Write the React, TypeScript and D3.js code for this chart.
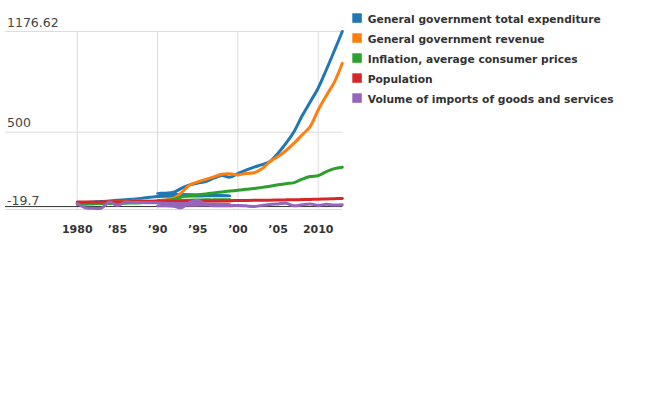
import React from "react";
import * as d3 from "d3";

const years1 = [1980, 1981, 1982, 1983, 1984, 1985, 1986, 1987, 1988, 1989, 1990, 1991, 1992, 1993, 1994, 1995, 1996, 1997, 1998, 1999];
const years2 = [1990, 1991, 1992, 1993, 1994, 1995, 1996, 1997, 1998, 1999, 2000, 2001, 2002, 2003, 2004, 2005, 2006, 2007, 2008, 2009, 2010, 2011, 2012, 2013];
const yearsAll = [1980, 1981, 1982, 1983, 1984, 1985, 1986, 1987, 1988, 1989, 1990, 1991, 1992, 1993, 1994, 1995, 1996, 1997, 1998, 1999, 2000, 2001, 2002, 2003, 2004, 2005, 2006, 2007, 2008, 2009, 2010, 2011, 2012, 2013];

const expenditure1 = [25, 28, 31, 34, 38, 42, 46, 50, 55, 62, 68, 70, 70, 71, 71, 71, 72, 72, 72, 72];
const expenditure2 = [88, 90, 96, 124, 146, 158, 168, 191, 209, 198, 222, 245, 265, 282, 303, 359, 426, 505, 610, 703, 797, 918, 1046, 1176.62];

const revenue1 = [20, 22, 24, 27, 30, 32, 34, 36, 37, 38, 38, 38, 38, 38, 38, 38, 38, 38, 38, 38];
const revenue2 = [40, 44, 56, 95, 145, 166, 183, 200, 217, 220, 213, 222, 227, 254, 303, 336, 377, 426, 482, 538, 649, 745, 835, 963];

const inflation1 = [14, 16, 18, 20, 21, 22, 23, 24, 26, 30, 34, 37, 40, 42, 43, 44, 45, 45, 46, 46];
const inflation2 = [40, 42, 48, 65, 72, 78, 85, 92, 98, 104, 110, 116, 121, 129, 137, 146, 154, 161, 184, 202, 208, 235, 255, 265];

const population = [30, 30.5, 31, 31.5, 32, 32.5, 33, 33.5, 34, 34.5, 35, 35.5, 36, 36.5, 37, 37.5, 38, 38.5, 39, 39.5, 40.5, 41, 42, 42.5, 43, 44, 45, 46, 47, 48, 50, 51, 53, 55];

const imports1 = [20, -8, -12, -10, 30, 8, 30, 28, 27, 26, 25, 22, 20, 20, 22, 20, 18, 18, 16, 15];
const imports2 = [5, 5, 2, -8, 28, 42, 15, 6, 5, 5, 8, 5, 0, 8, 14, 18, 22, 5, 12, 18, 8, 15, 10, 12];

const seriesNames = [
  "General government total expenditure",
  "General government revenue",
  "Inflation, average consumer prices",
  "Population",
  "Volume of imports of goods and services",
];
const seriesColors = ["#1f77b4", "#ff7f0e", "#2ca02c", "#d62728", "#9467bd"];

const yTickValues = [-19.7, 500, 1176.62];
const yTickLabels = ["-19.7", "500", "1176.62"];
const xTickValues = [1980, 1985, 1990, 1995, 2000, 2005, 2010];
const xTickLabels = ["1980", "\u201985", "\u201990", "\u201995", "\u201900", "\u201905", "2010"];
const xGridValues = [1980, 1990, 2000, 2010];

type Pt = [number, number];
const zip = (xs: number[], ys: number[]): Pt[] => xs.map((x, i) => [x, ys[i]]);

export default function App() {
  const x = d3.scaleLinear().domain([1971, 2013]).range([5, 342.3]);
  const y = d3.scaleLinear().domain([-19.7, 1176.62]).range([209.5, 31.5]);
  const line = d3
    .line<Pt>()
    .x((d) => x(d[0]))
    .y((d) => y(d[1]))
    .curve(d3.curveCatmullRom.alpha(0.5));

  const seriesData: Pt[][] = [
    [...zip(years1, expenditure1), ...zip(years2, expenditure2)],
    [...zip(years1, revenue1), ...zip(years2, revenue2)],
    [...zip(years1, inflation1), ...zip(years2, inflation2)],
    zip(yearsAll, population),
    [...zip(years1, imports1), ...zip(years2, imports2)],
  ];

  const [x0, x1] = x.range();

  return (
    <svg
      width={648}
      height={400}
      style={{ position: "absolute", left: 0, top: 0, fontFamily: "DejaVu Sans" }}
    >
      {yTickValues.map((v) => (
        <line key={"hg" + v} x1={x0} x2={x1} y1={y(v)} y2={y(v)} stroke="#dcdcdc" strokeWidth={1} />
      ))}
      {xGridValues.map((v) => (
        <line key={"vg" + v} x1={x(v)} x2={x(v)} y1={y(1176.62)} y2={y(-19.7)} stroke="#dcdcdc" strokeWidth={1} />
      ))}
      <line x1={x0} x2={x1} y1={y(0)} y2={y(0)} stroke="#333" strokeWidth={1} />
      {yTickValues.map((v, i) => (
        <text key={"yl" + v} x={7} y={y(v) - 5} fontSize={12.5} fill="#444">
          {yTickLabels[i]}
        </text>
      ))}
      {xTickValues.map((v, i) => (
        <text key={"xl" + v} x={x(v)} y={233} fontSize={11} fontWeight="bold" fill="#333" textAnchor="middle">
          {xTickLabels[i]}
        </text>
      ))}
      {seriesData.map((d, i) => (
        <path
          key={"s" + i}
          d={line(d) || ""}
          fill="none"
          stroke={seriesColors[i]}
          strokeWidth={3}
          strokeLinejoin="round"
          strokeLinecap="round"
        />
      ))}
      {seriesNames.map((name, i) => (
        <g key={"lg" + i} transform={`translate(352.3, ${13.3 + i * 20})`}>
          <rect width={9.5} height={9.5} fill={seriesColors[i]} />
          <text x={15.4} y={10} fontSize={10.7} fontWeight="bold" fill="#333">
            {name}
          </text>
        </g>
      ))}
    </svg>
  );
}
